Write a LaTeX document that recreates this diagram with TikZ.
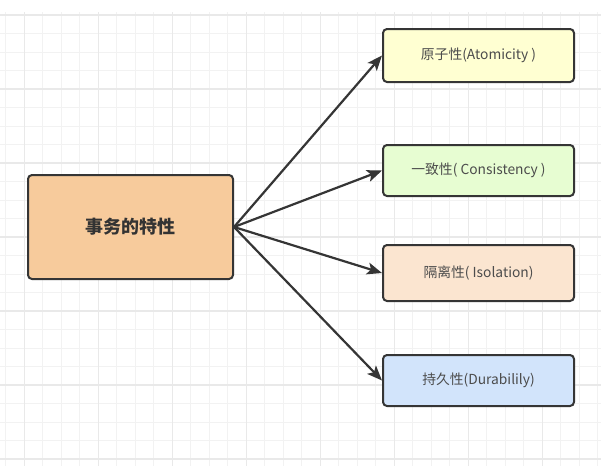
\documentclass[tikz,border=0pt]{standalone}
\usepackage{fontspec}
\newfontfamily\cjk{Noto Sans CJK SC}
\usetikzlibrary{arrows.meta}
\definecolor{mainfill}{HTML}{F7CB9C}
\definecolor{atomfill}{HTML}{FFFFD2}
\definecolor{consfill}{HTML}{E7FDD2}
\definecolor{isofill}{HTML}{FBE5D0}
\definecolor{durfill}{HTML}{D2E4FB}
\definecolor{edge}{HTML}{353535}
\definecolor{gridminor}{HTML}{F2F2F2}
\definecolor{gridmajor}{HTML}{E9E9E9}
\begin{document}
\begin{tikzpicture}[x=1pt,y=-1pt,
    prop_node/.style={rectangle,rounded corners=4pt,draw=edge,line width=2pt,minimum width=191pt,inner sep=0pt,text=black!70,font=\cjk\fontsize{13.8}{16}\selectfont},
    main_node/.style={prop_node,minimum width=205pt,minimum height=104pt,fill=mainfill,text=black!80,font=\cjk\bfseries\fontsize{18}{20}\selectfont},
    link/.style={draw=edge,line width=2.2pt,-{Stealth[length=15pt,width=12pt,inset=3.5pt]}}]

    \useasboundingbox (0,0) rectangle (601,466);
    \fill[white] (0,0) rectangle (601,466);

    % grid
    \foreach \x in {5.8,24.3,...,600} \draw[gridminor,line width=1pt] (\x,12) -- (\x,466);
    \foreach \y in {15,33.5,...,466} \draw[gridminor,line width=1pt] (0,\y) -- (601,\y);
    \foreach \x in {24.3,98.3,...,600} \draw[gridmajor,line width=1.2pt] (\x,12) -- (\x,466);
    \foreach \y in {15,89,...,466} \draw[gridmajor,line width=1.2pt] (0,\y) -- (601,\y);

    \node[main_node] (acid) at (130.5,227) {事务的特性};
    \node[prop_node,fill=atomfill,minimum height=53pt] (atom) at (478.5,55.5) {原子性(Atomicity )};
    \node[prop_node,fill=consfill,minimum height=51pt] (cons) at (478.5,170.5) {一致性( Consistency )};
    \node[prop_node,fill=isofill,minimum height=56pt] (iso) at (478.5,273) {隔离性( Isolation)};
    \node[prop_node,fill=durfill,minimum height=51pt] (dur) at (478.5,380.5) {持久性(Durabilily)};

    \draw[link] (acid.east) -- (atom.west);
    \draw[link] (acid.east) -- (cons.west);
    \draw[link] (acid.east) -- (iso.west);
    \draw[link] (acid.east) -- (dur.west);
\end{tikzpicture}
\end{document}
